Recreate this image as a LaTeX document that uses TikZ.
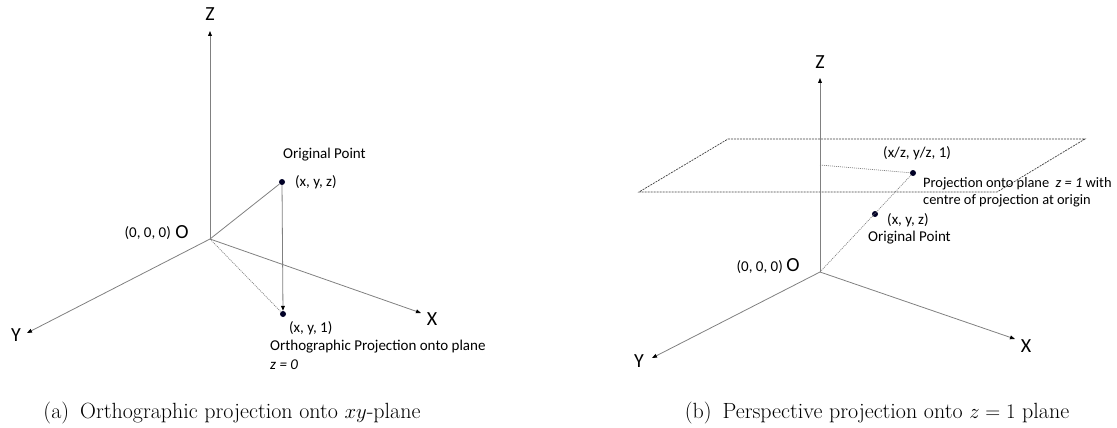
\documentclass[tikz,border=0pt]{standalone}
\usepackage{fontspec}
\newfontfamily\calib{Carlito}
\usetikzlibrary{arrows.meta}
\begin{document}
\begin{tikzpicture}[x=1pt,y=-1pt,
  axis/.style={draw=black!50, line width=0.8pt, -{Triangle[length=5pt,width=3.8pt,black]}},
  ray/.style={draw=black!50, line width=0.8pt},
  dotline/.style={draw=black!50, line width=0.7pt, dash pattern=on 1pt off 1pt},
  planeline/.style={draw=black!75, line width=0.7pt, dash pattern=on 2pt off 1pt},
  dot/.style={circle, fill=black!85!blue, inner sep=0pt, minimum size=6pt},
  small/.style={font=\calib\fontsize{15}{17}\selectfont, inner sep=0pt},
  smaller/.style={font=\calib\fontsize{14.4}{17}\selectfont, inner sep=0pt},
  big/.style={font=\calib\fontsize{20}{22}\selectfont, inner sep=0pt},
  captext/.style={font=\fontsize{22}{26}\selectfont, inner sep=0pt, anchor=base}
]
\useasboundingbox (0,0) rectangle (1117,428);
% ---------- (a) ----------
\coordinate (O) at (210,239);
\coordinate (Ztip) at (210,31);
\coordinate (Ytip) at (27,333);
\coordinate (Xtip) at (421,313);
\node[dot] (P) at (282,182) {};
\node[dot] (Q) at (283,314) {};
\draw[axis] (O) -- (Ztip);
\draw[axis] (O) -- (Ytip);
\draw[axis] (O) -- (Xtip);
\draw[ray] (O) -- (P);
\draw[axis] (P) -- (Q);
\draw[dotline] (O) -- (Q);
\node[big] (zl) at (210,14) {Z};
\node[big] (yl) at (16,335) {Y};
\node[big] (xl) at (432,319) {X};
\node[small, anchor=east] (ol) at (171,233) {(0, 0, 0)};
\node[big] (oo) at (182,232) {O};
\node[small, anchor=west] (orig) at (283,155) {Original Point};
\node[small, anchor=west] (pl) at (295,182) {(x, y, z)};
\node[small, anchor=west] (ql) at (289,328) {(x, y, 1)};
\node[small, anchor=west] (ortho) at (270,347) {Orthographic Projection onto plane};
\node[small, anchor=west] (z0) at (270,365) {\itshape z = 0};
\node[captext] (capa) at (232,418) {(a)\hspace{0.5em}Orthographic projection onto $xy$-plane};
% ---------- (b) ----------
\coordinate (O2) at (820,272);
\coordinate (Z2) at (820,78);
\coordinate (Y2) at (652,358);
\coordinate (X2) at (1015,339);
\coordinate (A) at (728,139);
\coordinate (B) at (1085,139);
\coordinate (C) at (997,192);
\coordinate (D) at (639,192);
\coordinate (Zp) at (820,165);
\node[dot] (R2) at (913,173) {};
\node[dot] (P2) at (875,214) {};
\draw[planeline] (A) -- (B) -- (C) -- (D) -- cycle;
\draw[axis] (O2) -- (Z2);
\draw[axis] (O2) -- (Y2);
\draw[axis] (O2) -- (X2);
\draw[dotline] (O2) -- (R2);
\draw[dotline] (Zp) -- (R2);
\node[big] (zl2) at (820,62) {Z};
\node[big] (yl2) at (639,361) {Y};
\node[big] (xl2) at (1026,346) {X};
\node[small, anchor=east] (ol2) at (783,267) {(0, 0, 0)};
\node[big] (oo2) at (793,265) {O};
\node[small, anchor=west] (rl) at (883,153) {(x/z, y/z, 1)};
\node[smaller, anchor=west] (proj1) at (923,184) {Projection onto plane\hspace{0.45em}\textit{z = 1} with};
\node[smaller, anchor=west] (proj2) at (923,201) {centre of projection at origin};
\node[small, anchor=west] (pl2) at (887,220) {(x, y, z)};
\node[small, anchor=west] (orig2) at (868,238) {Original Point};
\node[captext] (capb) at (877,418) {(b)\hspace{0.5em}Perspective projection onto $z = 1$ plane};
\end{tikzpicture}
\end{document}
